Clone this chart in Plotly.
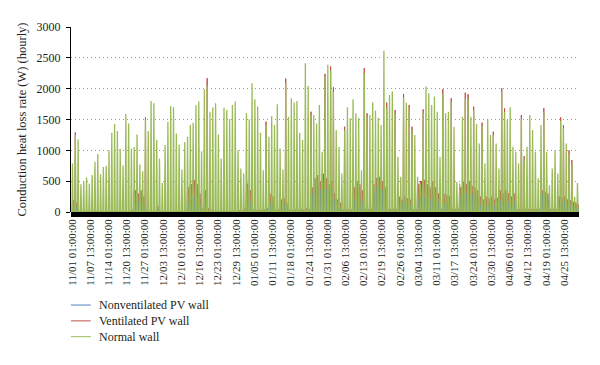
import plotly.graph_objects as go

# ---------------- data ----------------
series_names = ["Nonventilated PV wall", "Ventilated PV wall", "Normal wall"]
series_colors = ["#4F81BD", "#C0504D", "#9BBB59"]

tick_labels = [
    "11/01 01:00:00", "11/07 13:00:00", "11/14 01:00:00", "11/20 13:00:00",
    "11/27 01:00:00", "12/03 13:00:00", "12/10 01:00:00", "12/16 13:00:00",
    "12/23 01:00:00", "12/29 13:00:00", "01/05 01:00:00", "01/11 13:00:00",
    "01/18 01:00:00", "01/24 13:00:00", "01/31 01:00:00", "02/06 13:00:00",
    "02/13 01:00:00", "02/19 13:00:00", "02/26 01:00:00", "03/04 13:00:00",
    "03/11 01:00:00", "03/17 13:00:00", "03/24 01:00:00", "03/30 13:00:00",
    "04/06 01:00:00", "04/12 13:00:00", "04/19 01:00:00", "04/25 13:00:00",
]
tick_step_hours = 156
n_hours = 4344  # 11/01 01:00 .. 04/30 24:00

# Normal wall: daily peak (W), one value per day from 11/01
normal_peak = [
    787, 1250, 1177, 450, 500, 560, 460, 600, 814, 940,
    613, 730, 750, 1000, 1286, 1427, 1313, 1025, 754, 1590,
    1437, 1030, 1052, 1258, 770, 662, 1500, 1313, 1800, 1763,
    1166, 868, 472, 1085, 1465, 1720, 1698, 1275, 1096, 689,
    1134, 1220, 1410, 1448, 1730, 1790, 987, 1990, 2050, 1627,
    1698, 1763, 1258, 868, 1692, 1654, 1508, 1736, 1790, 1000,
    705, 624, 1600, 1503, 2089, 1828, 1709, 1286, 678, 1420,
    1220, 1557, 1410, 1747, 1030, 689, 2100, 1546, 1844, 1774,
    1800, 1286, 1166, 2414, 2045, 1580, 1573, 1437, 1736, 976,
    2200, 2387, 2300, 1950, 1329, 1058, 624, 1330, 1698, 1519,
    1828, 1600, 1519, 678, 2250, 1550, 1573, 1780, 1644, 1530,
    1410, 2614, 1700, 1899, 1953, 1600, 895, 570, 1850, 1774,
    1680, 1330, 1248, 570, 460, 1610, 2034, 1925, 1736, 1872,
    1627, 895, 1920, 1600, 1627, 1780, 1383, 488, 460, 1546,
    1850, 1840, 1546, 1650, 1427, 1112, 1400, 787, 1503, 1248,
    1250, 1112, 705, 1950, 1620, 1492, 1698, 1058, 976, 787,
    1510, 860, 1058, 1573, 1329, 976, 543, 1410, 1620, 976,
    434, 705, 1000, 624, 1480, 1350, 1112, 950, 790, 244, 472,
]

# Ventilated PV wall: peaks visible above the normal wall (day index: W)
ventilated_tips = {
    1: 1290, 26: 1535, 48: 2170, 69: 1465, 76: 2165, 85: 1627, 90: 2240,
    92: 2360, 93: 2023, 97: 1383, 104: 2333, 105: 1600, 112: 1774,
    115: 1654, 118: 1915, 120: 1736, 121: 1383, 125: 1665, 132: 1990,
    135: 1844, 140: 1936, 141: 1910, 143: 1709, 146: 1448, 150: 1302,
    153: 2007, 154: 1682, 160: 1573, 161: 906, 168: 1682, 174: 1535,
    175: 1410, 177: 1000, 178: 841,
}
# Ventilated PV wall: daily off-peak values (W)
ventilated_low = [
    190, 150, 10, 10, 10, 10, 10, 10, 10, 10,
    10, 10, 10, 10, 10, 10, 10, 10, 10, 10,
    10, 30, 350, 300, 350, 250, 30, 10, 10, 10,
    100, 20, 10, 10, 10, 10, 10, 10, 10, 10,
    30, 400, 450, 520, 450, 300, 60, 350, 60, 30,
    20, 20, 20, 20, 20, 20, 20, 20, 20, 30,
    30, 60, 460, 350, 40, 30, 40, 30, 40, 60,
    300, 250, 30, 40, 200, 220, 150, 40, 30, 40,
    40, 50, 40, 60, 50, 400, 550, 600, 500, 620,
    550, 450, 500, 300, 200, 150, 40, 50, 40, 40,
    400, 500, 450, 350, 50, 50, 50, 450, 550, 570,
    500, 400, 50, 50, 50, 50, 250, 200, 250, 220,
    200, 50, 50, 450, 500, 520, 450, 400, 500, 400,
    300, 50, 300, 280, 250, 50, 50, 50, 400, 480,
    450, 500, 420, 400, 350, 250, 200, 250, 220, 250,
    200, 230, 350, 300, 350, 300, 250, 300, 50, 50,
    50, 50, 50, 50, 50, 50, 50, 350, 330, 300,
    50, 50, 50, 250, 230, 250, 200, 190, 170, 150, 120,
]
# Nonventilated PV wall: daily off-peak values (W)
nonventilated_low = [
    100, 80, 0, 0, 0, 0, 0, 0, 0, 0,
    0, 0, 0, 0, 0, 0, 0, 0, 0, 0,
    0, 10, 200, 150, 200, 120, 10, 0, 0, 0,
    80, 10, 0, 0, 0, 0, 0, 0, 0, 0,
    10, 150, 200, 250, 200, 100, 20, 250, 20, 10,
    10, 5, 10, 5, 5, 10, 5, 10, 5, 10,
    10, 20, 190, 150, 15, 10, 15, 10, 15, 20,
    150, 100, 10, 15, 130, 130, 100, 15, 10, 15,
    15, 20, 15, 25, 20, 300, 400, 430, 350, 400,
    380, 300, 350, 200, 80, 60, 15, 20, 15, 15,
    200, 250, 220, 150, 20, 20, 20, 300, 400, 380,
    350, 250, 20, 20, 20, 20, 190, 150, 150, 120,
    100, 20, 20, 200, 250, 240, 250, 200, 230, 200,
    150, 20, 130, 120, 100, 20, 20, 20, 250, 320,
    300, 300, 280, 250, 200, 120, 100, 110, 100, 120,
    100, 100, 190, 150, 180, 150, 120, 150, 20, 20,
    20, 20, 20, 20, 20, 20, 20, 300, 280, 250,
    20, 20, 20, 190, 150, 180, 150, 100, 90, 80, 60,
]

# ---------------- place the daily values on the hourly axis ----------------
gx, gy, rx, ry, bx, by = [], [], [], [], [], []
for d, g in enumerate(normal_peak):
    h = 24 * d
    gx += [h, h + 5, h + 10]
    gy += [0, g, 0]
    rpk = ventilated_tips.get(d, ventilated_low[d])
    rx += [h + 1, h + 5, h + 9, h + 15, h + 21]
    ry += [0, rpk, 0, ventilated_low[d], 0]
    bx += [h + 11, h + 15, h + 19]
    by += [0, nonventilated_low[d], 0]

serif = "Liberation Serif"
fig = go.Figure()
fig.add_trace(go.Scatter(x=rx, y=ry, mode="lines", name=series_names[1],
                         line=dict(color=series_colors[1], width=1)))
fig.add_trace(go.Scatter(x=bx, y=by, mode="lines", name=series_names[0],
                         line=dict(color=series_colors[0], width=1)))
fig.add_trace(go.Scatter(x=gx, y=gy, mode="lines", name=series_names[2],
                         line=dict(color=series_colors[2], width=1.3)))

tick_vals = [i * tick_step_hours for i in range(len(tick_labels))]

# hand-drawn legend (tight row spacing as in the reference)
legend_shapes, legend_notes = [], []
for i, (name, col) in enumerate(zip(series_names, series_colors)):
    yy = -0.503 - i * 0.0855
    legend_shapes.append(dict(type="line", xref="paper", yref="paper",
                              x0=0.0, x1=0.039, y0=yy, y1=yy,
                              line=dict(color=col, width=1)))
    legend_notes.append(dict(text=name, xref="paper", yref="paper", x=0.051, y=yy,
                             xanchor="left", yanchor="middle", showarrow=False,
                             font=dict(family=serif, size=12, color="#231F20")))

# page body adds an 8 px offset: figure is sized/margined to compensate
fig.update_layout(
    width=592, height=357,
    margin=dict(l=63, r=21, t=19, b=153),
    paper_bgcolor="white", plot_bgcolor="white",
    font=dict(family=serif, size=12, color="#231F20"),
    showlegend=False,
    xaxis=dict(range=[-8, n_hours - 6], tickmode="array", tickvals=tick_vals,
               ticktext=tick_labels, tickangle=-90, showgrid=False,
               zeroline=False, showline=False, ticks="", ticklabelstandoff=4,
               tickfont=dict(family=serif, size=11), automargin=False),
    yaxis=dict(range=[0, 3000], tickvals=[0, 500, 1000, 1500, 2000, 2500, 3000],
               showgrid=True, gridcolor="#999999", griddash="1px,3px", gridwidth=1,
               zeroline=False, showline=True, linecolor="black", linewidth=1,
               ticks="outside", ticklen=4, tickcolor="black", ticklabelstandoff=3,
               tickfont=dict(family=serif, size=12), automargin=False,
               title=dict(text="Conduction heat loss rate (W) (hourly)",
                          font=dict(family=serif, size=12.5), standoff=7)),
    shapes=[dict(type="rect", xref="paper", x0=0, x1=1, yref="paper",
                 ysizemode="pixel", yanchor=0, y0=0, y1=-5,
                 fillcolor="black", line=dict(width=0), layer="above")]
           + legend_shapes,
    annotations=legend_notes,
)

fig.write_html("out.html")
